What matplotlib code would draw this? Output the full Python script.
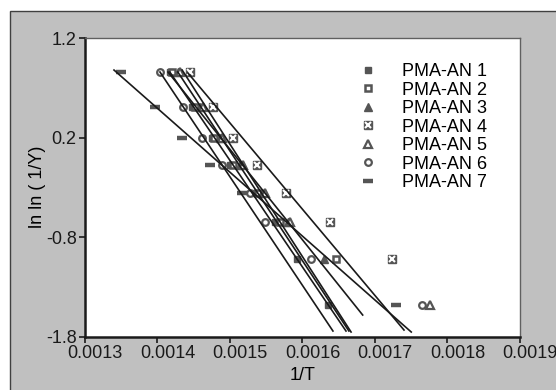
import matplotlib
matplotlib.use("Agg")
import matplotlib.pyplot as plt
import matplotlib.transforms as mtransforms
from matplotlib.patches import Rectangle

plt.rcParams["font.family"] = ["Liberation Sans", "DejaVu Sans"]

# ln ln(1/Y) levels
ROWS = [0.86, 0.51, 0.2, -0.08, -0.36, -0.65, -1.02, -1.48]

# 1/T values for each series
an1_x = [0.0014172, 0.0014476, 0.0014752, 0.0015, 0.0015345, 0.0015621, 0.0015924, 0.0016352]
an1_y = ROWS
an2_x = [0.00142, 0.0014517, 0.0014779, 0.0015041, 0.0015386, 0.001569, 0.0016462]
an2_y = ROWS[:7]
an3_x = [0.0014283, 0.0014586, 0.0014862, 0.0015138, 0.0015441, 0.00158, 0.0016297]
an3_y = ROWS[:7]
an4_x = [0.0014448, 0.0014766, 0.0015041, 0.0015372, 0.0015772, 0.0016379, 0.0017234]
an4_y = ROWS[:7]
an5_x = [0.001431, 0.0014628, 0.001489, 0.0015179, 0.0015483, 0.0015828, 0.0017759]
an5_y = ROWS[:6] + [ROWS[7]]
an6_x = [0.0014034, 0.0014352, 0.0014614, 0.001489, 0.0015276, 0.0015483, 0.0016117, 0.0017648]
an6_y = ROWS
an7_x = [0.0013497, 0.0013966, 0.0014338, 0.0014724, 0.0015166, 0.001729]
an7_y = ROWS[:5] + [ROWS[7]]

# linear fit lines (start / end) for each series
fit_x0 = [0.001417, 0.0014145, 0.001428, 0.001442, 0.001434, 0.0014034, 0.00134]
fit_x1 = [0.00166, 0.001683, 0.001664, 0.00174, 0.001667, 0.001642, 0.00175]
fit_y0 = [0.858, 0.858, 0.858, 0.848, 0.878, 0.858, 0.878]
fit_y1 = [-1.745, -1.584, -1.745, -1.735, -1.755, -1.745, -1.755]

labels = ["PMA-AN 1", "PMA-AN 2", "PMA-AN 3", "PMA-AN 4", "PMA-AN 5", "PMA-AN 6", "PMA-AN 7"]
x_ticks = [0.0013, 0.0014, 0.0015, 0.0016, 0.0017, 0.0018, 0.0019]
x_tick_labels = ["0.0013", "0.0014", "0.0015", "0.0016", "0.0017", "0.0018", "0.0019"]
y_ticks = [-1.8, -0.8, 0.2, 1.2]
y_tick_labels = ["-1.8", "-0.8", "0.2", "1.2"]

MC = "#555555"
BG = "#c0c0c0"

fig = plt.figure(figsize=(5.56, 3.9), dpi=100)
bg = Rectangle((9.6 / 556, -0.1), 1.2, 1.1 - 10.6 / 390,
               transform=fig.transFigure, facecolor=BG,
               edgecolor="#404040", linewidth=1.0, zorder=-10)
fig.add_artist(bg)
ax = fig.add_axes([85 / 556, 1 - 336.5 / 390, 435 / 556, 298.5 / 390])
ax.set_facecolor("white")

styles = [
    dict(marker="s", ms=4.5, mfc=MC, mec=MC),
    dict(marker="s", ms=4.5, mfc="white", mec=MC, mew=1.8),
    dict(marker="^", ms=5.5, mfc=MC, mec=MC),
    None,
    dict(marker="^", ms=5.5, mfc="white", mec=MC, mew=1.6),
    dict(marker="o", ms=4.8, mfc="white", mec=MC, mew=1.6),
    dict(marker="_", ms=6.5, mec=MC, mew=3.2),
]
series = [(an1_x, an1_y), (an2_x, an2_y), (an3_x, an3_y), (an4_x, an4_y),
          (an5_x, an5_y), (an6_x, an6_y), (an7_x, an7_y)]

handles = []
for i, (xs, ys) in enumerate(series):
    if styles[i] is None:
        h1, = ax.plot(xs, ys, ls="none", marker="s", ms=6.2, mfc=MC, mec=MC, zorder=2)
        h2, = ax.plot(xs, ys, ls="none", marker="x", ms=3.8, mec="white", mew=1.5, zorder=2)
        handles.append((h1, h2))
    else:
        h, = ax.plot(xs, ys, ls="none", zorder=2, **styles[i])
        handles.append(h)

for i in range(len(series)):
    ax.plot([fit_x0[i], fit_x1[i]], [fit_y0[i], fit_y1[i]], color="#1a1a1a", lw=1.2, zorder=3)

ax.set_xlim(0.0013, 0.0019)
ax.set_ylim(-1.8, 1.2)
ax.set_xticks(x_ticks)
ax.set_xticklabels(x_tick_labels)
ax.set_yticks(y_ticks)
ax.set_yticklabels(y_tick_labels)
ax.tick_params(direction="out", length=4, width=1.2, labelsize=13, colors="#1a1a1a", pad=2)

# the x labels in the original sit a little right of their ticks
shift = mtransforms.ScaledTranslation(10 / 100, 0, fig.dpi_scale_trans)
for lab in ax.get_xticklabels():
    lab.set_transform(lab.get_transform() + shift)

for side in ["left", "bottom"]:
    ax.spines[side].set_linewidth(1.8)
    ax.spines[side].set_color("#1a1a1a")
for side in ["top", "right"]:
    ax.spines[side].set_linewidth(1.0)
    ax.spines[side].set_color("#606060")

ax.set_xlabel("1/T", fontsize=13, labelpad=4)
ax.set_ylabel("ln ln ( 1/Y)", fontsize=13, labelpad=0)

ax.legend(handles, labels, loc="upper left", bbox_to_anchor=(0.63, 0.915),
          frameon=False, fontsize=13, handlelength=1.0, handletextpad=1.4,
          labelspacing=0.08, borderpad=0, borderaxespad=0)

fig.savefig("out.png", dpi=100)
